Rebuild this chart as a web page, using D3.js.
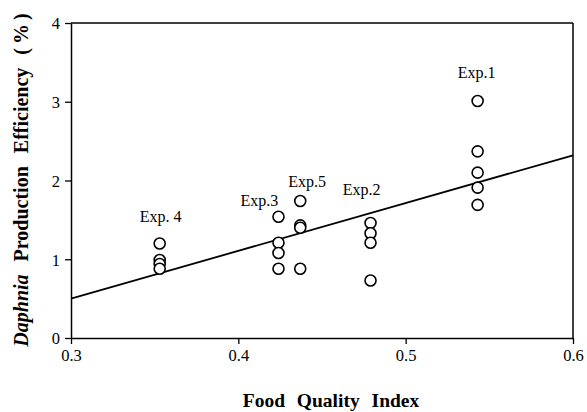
<!DOCTYPE html>
<html>
<head>
<meta charset="utf-8">
<script src="https://cdn.jsdelivr.net/npm/d3@7"></script>
<style>
  body { margin: 0; background: #fff; }
  svg text { font-family: "Liberation Serif", "Times New Roman", serif; fill: #000; }
</style>
</head>
<body>
<div id="chart"></div>
<script>
// Data
var groups = ["Exp. 4", "Exp.3", "Exp.5", "Exp.2", "Exp.1"];
var foodQuality = [0.353, 0.424, 0.437, 0.479, 0.543];
var efficiency = [
    [1.20, 0.99, 0.94, 0.88],
    [1.54, 1.21, 1.08, 0.88],
    [1.74, 1.43, 1.40, 0.88],
    [1.46, 1.33, 1.21, 0.73],
    [3.01, 2.37, 2.10, 1.91, 1.69]
];
var fitX = [0.3, 0.6];
var fitY = [0.5, 2.32];
var xTicks = [0.3, 0.4, 0.5, 0.6];
var yTicks = [0, 1, 2, 3, 4];

// label nudges (dx, dy in px) relative to top point of each group
var labelNudge = [[1, -22], [-19, -11], [7, -14], [-9, -28], [-1, -23]];

var svgWidth = 587;
var svgHeight = 412;

var margin = { top: 23, right: 14, bottom: 74, left: 71 };
var chartWidth = svgWidth - margin.left - margin.right;
var chartHeight = svgHeight - margin.top - margin.bottom;

var svg = d3.select("#chart")
    .append("svg")
    .attr("width", svgWidth)
    .attr("height", svgHeight);

var chartGroup = svg.append("g")
    .attr("transform", `translate(${margin.left}, ${margin.top})`);

var xScale = d3.scaleLinear().domain([0.3, 0.6]).range([0, chartWidth]);
var yScale = d3.scaleLinear().domain([0, 4]).range([chartHeight, 0]);

// axes
var bottomAxis = d3.axisBottom(xScale).tickValues(xTicks).tickFormat(d3.format(".1f")).tickSize(6).tickSizeOuter(0);
var leftAxis = d3.axisLeft(yScale).tickValues(yTicks).tickFormat(d3.format("d")).tickSize(6).tickSizeOuter(0);

var xg = chartGroup.append("g")
    .attr("transform", "translate(0, " + chartHeight + ")")
    .call(bottomAxis);
var yg = chartGroup.append("g").call(leftAxis);

[xg, yg].forEach(function (g) {
    g.select(".domain").attr("stroke", "#000").attr("stroke-width", 1.5);
    g.selectAll(".tick line").attr("stroke", "#000").attr("stroke-width", 1.3);
    g.selectAll(".tick text")
        .attr("font-size", 16.5)
        .attr("font-family", "Liberation Serif, serif")
        .attr("fill", "#000");
});
xg.selectAll(".tick text").attr("y", 8).attr("dy", "0.9em");
yg.selectAll(".tick text").attr("x", -11).attr("dy", "0.35em");

// top and right frame
chartGroup.append("line")
    .attr("x1", 0).attr("x2", chartWidth).attr("y1", 0).attr("y2", 0)
    .attr("stroke", "#000").attr("stroke-width", 1.5);
chartGroup.append("line")
    .attr("x1", chartWidth).attr("x2", chartWidth).attr("y1", 0).attr("y2", chartHeight)
    .attr("stroke", "#000").attr("stroke-width", 1.5);

// regression line
chartGroup.append("line")
    .attr("x1", xScale(fitX[0])).attr("y1", yScale(fitY[0]))
    .attr("x2", xScale(fitX[1])).attr("y2", yScale(fitY[1]))
    .attr("stroke", "#000").attr("stroke-width", 1.8);

// points
var points = [];
groups.forEach(function (g, i) {
    efficiency[i].forEach(function (v) {
        points.push({ x: foodQuality[i], y: v });
    });
});

chartGroup.selectAll("circle")
    .data(points)
    .enter()
    .append("circle")
    .attr("cx", d => xScale(d.x))
    .attr("cy", d => yScale(d.y))
    .attr("r", 5.5)
    .attr("fill", "#fff")
    .attr("stroke", "#000")
    .attr("stroke-width", 1.6);

// group labels
chartGroup.selectAll(".grp")
    .data(groups)
    .enter()
    .append("text")
    .attr("class", "grp")
    .attr("x", (d, i) => xScale(foodQuality[i]) + labelNudge[i][0])
    .attr("y", (d, i) => yScale(d3.max(efficiency[i])) + labelNudge[i][1])
    .attr("text-anchor", "middle")
    .attr("font-size", 16)
    .text(d => d);

// axis titles
svg.append("text")
    .attr("x", 331)
    .attr("y", 407)
    .attr("text-anchor", "middle")
    .attr("font-size", 19.5)
    .attr("font-weight", "bold")
    .attr("word-spacing", 7)
    .text("Food Quality Index");

var yTitle = svg.append("text")
    .attr("transform", "translate(28, 178) rotate(-90)")
    .attr("text-anchor", "middle")
    .attr("font-size", 20)
    .attr("font-weight", "bold")
    .attr("word-spacing", 8);
yTitle.append("tspan").attr("font-style", "italic").text("Daphnia");
yTitle.append("tspan").text(" Production Efficiency ");
yTitle.append("tspan").attr("letter-spacing", 4).text("(%)");
</script>
</body>
</html>
